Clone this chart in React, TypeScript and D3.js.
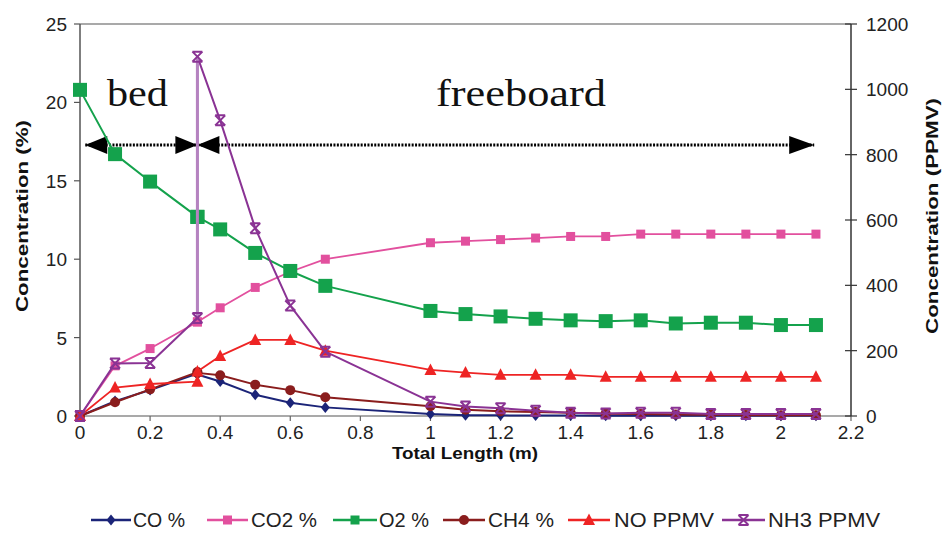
import * as d3 from "d3";

// total length along the reactor (m); 0.335 appears twice (bed end / freeboard start)
const lengthM = [0, 0.1, 0.2, 0.335, 0.335, 0.4, 0.5, 0.6, 0.7, 1.0, 1.1, 1.2, 1.3, 1.4, 1.5, 1.6, 1.7, 1.8, 1.9, 2.0, 2.1];

// left axis, %
const coPct = [0, 0.95, 1.66, 2.7, 2.65, 2.2, 1.35, 0.85, 0.55, 0.13, 0.05, 0.04, 0.03, 0.03, 0.02, 0.02, 0.02, 0.02, 0.02, 0.02, 0.02];
const co2Pct = [0, 3.2, 4.3, 6.0, 6.0, 6.9, 8.2, 9.2, 10.0, 11.05, 11.15, 11.25, 11.35, 11.45, 11.45, 11.6, 11.6, 11.6, 11.6, 11.6, 11.6];
const o2Pct = [20.8, 16.7, 14.95, 12.7, 12.7, 11.9, 10.4, 9.25, 8.3, 6.7, 6.5, 6.35, 6.2, 6.1, 6.05, 6.1, 5.9, 5.95, 5.95, 5.8, 5.8];
const ch4Pct = [0, 0.88, 1.7, 2.8, 2.75, 2.6, 2.0, 1.65, 1.2, 0.62, 0.4, 0.3, 0.25, 0.2, 0.15, 0.12, 0.1, 0.08, 0.06, 0.05, 0.05];

// right axis, PPMV
const noPpmv = [0, 87, 98, 105, 136, 184, 233, 233, 200, 141, 133, 126, 126, 126, 120, 120, 120, 120, 120, 120, 120];
const nh3Ppmv = [0, 161, 162, 300, 1100, 905, 575, 338, 197, 44, 29, 24, 16, 10, 8, 10, 10, 6, 6, 6, 6];

const xTicks = [0, 0.2, 0.4, 0.6, 0.8, 1, 1.2, 1.4, 1.6, 1.8, 2, 2.2];
const leftTicks = [0, 5, 10, 15, 20, 25];
const rightTicks = [0, 200, 400, 600, 800, 1000, 1200];

type Marker = "diamond" | "square" | "bigsquare" | "circle" | "triangle" | "star";

const series: { name: string; values: number[]; axis: "L" | "R"; color: string; marker: Marker; width: number }[] = [
  { name: "CO %", values: coPct, axis: "L", color: "#1b2478", marker: "diamond", width: 2 },
  { name: "CO2 %", values: co2Pct, axis: "L", color: "#e2509e", marker: "square", width: 1.8 },
  { name: "O2 %", values: o2Pct, axis: "L", color: "#14a24c", marker: "bigsquare", width: 2 },
  { name: "CH4 %", values: ch4Pct, axis: "L", color: "#8a1d1d", marker: "circle", width: 2 },
  { name: "NO PPMV", values: noPpmv, axis: "R", color: "#ee2424", marker: "triangle", width: 1.8 },
  { name: "NH3 PPMV", values: nh3Ppmv, axis: "R", color: "#8a3394", marker: "star", width: 2 },
];

// legend layout: [lineStart, lineEnd, textStart, textWidth]
const legendPos = [
  [91, 131, 133, 52],
  [207, 248, 251, 66],
  [333, 377, 379, 50],
  [443, 485, 488, 66],
  [568, 610, 614, 100],
  [722, 765, 768, 112],
];

const W = 947;
const H = 534;
const x = d3.scaleLinear().domain([0, 2.2]).range([80, 851]);
const yL = d3.scaleLinear().domain([0, 25]).range([416, 24]);
const yR = d3.scaleLinear().domain([0, 1200]).range([416, 24]);

const sans = "'Liberation Sans', Arial, sans-serif";
const narrow = "'Liberation Sans Narrow', 'Arial Narrow', 'Liberation Sans', Arial, sans-serif";

function MarkerShape({ type, cx, cy, color }: { type: Marker; cx: number; cy: number; color: string }) {
  switch (type) {
    case "diamond":
      return <path d={`M${cx},${cy - 5.5}L${cx + 4.5},${cy}L${cx},${cy + 5.5}L${cx - 4.5},${cy}Z`} fill={color} />;
    case "square":
      return <rect x={cx - 4.5} y={cy - 4.5} width={9} height={9} fill={color} />;
    case "bigsquare":
      return <rect x={cx - 7} y={cy - 7} width={14} height={14} fill={color} />;
    case "circle":
      return <circle cx={cx} cy={cy} r={5} fill={color} />;
    case "triangle":
      return <path d={`M${cx},${cy - 6.5}L${cx + 6},${cy + 5}L${cx - 6},${cy + 5}Z`} fill={color} />;
    case "star":
      return (
        <path
          d={`M${cx - 5},${cy - 5}L${cx + 5},${cy + 5}M${cx + 5},${cy - 5}L${cx - 5},${cy + 5}M${cx - 5},${cy - 5}H${cx + 5}M${cx - 5},${cy + 5}H${cx + 5}`}
          stroke={color}
          strokeWidth={2}
          fill="none"
        />
      );
  }
}

function Arrowhead({ tip, base, y }: { tip: number; base: number; y: number }) {
  return <path d={`M${tip},${y}L${base},${y - 9}L${base},${y + 9}Z`} fill="#000" />;
}

export default function App() {
  const arrowY = 145;
  const bedStart = x(0.015);
  const split = x(0.335);
  const fbEnd = x(2.095);

  return (
    <svg width={W} height={H} style={{ position: "absolute", left: 0, top: 0, background: "#fff" }} fontFamily={sans}>
      {/* frame */}
      <line x1={80} x2={851} y1={24} y2={24} stroke="#8c8c8c" strokeWidth={1.5} />
      <line x1={80} x2={851} y1={416} y2={416} stroke="#8c8c8c" strokeWidth={1.5} />
      <line x1={80} x2={80} y1={24} y2={416} stroke="#555" strokeWidth={1.5} />
      <line x1={851} x2={851} y1={24} y2={416} stroke="#333" strokeWidth={1.5} />

      {/* x axis */}
      {xTicks.map((t) => (
        <g key={t}>
          <line x1={x(t)} x2={x(t)} y1={416} y2={421} stroke="#666" strokeWidth={1.2} />
          <text x={x(t)} y={439} textAnchor="middle" fontSize={19} fontFamily={narrow} fill="#222">
            {t}
          </text>
        </g>
      ))}
      <text x={465} y={459} textAnchor="middle" fontSize={17} fontWeight="bold" fontFamily={narrow} fill="#111" textLength={146} lengthAdjust="spacingAndGlyphs">
        Total Length (m)
      </text>

      {/* left axis */}
      {leftTicks.map((t) => (
        <g key={t}>
          <line x1={74} x2={80} y1={yL(t)} y2={yL(t)} stroke="#555" strokeWidth={1.2} />
          <text x={67} y={yL(t) + 7} textAnchor="end" fontSize={19} fontFamily={narrow} fill="#222">
            {t}
          </text>
        </g>
      ))}
      <text
        transform="translate(28,216) rotate(-90)"
        textAnchor="middle"
        fontSize={17}
        fontWeight="bold"
        fill="#111"
        textLength={192}
        lengthAdjust="spacingAndGlyphs"
      >
        Concentration (%)
      </text>

      {/* right axis */}
      {rightTicks.map((t) => (
        <g key={t}>
          <line x1={845} x2={857} y1={yR(t)} y2={yR(t)} stroke="#333" strokeWidth={1.2} />
          <text x={866} y={yR(t) + 7} textAnchor="start" fontSize={19} fontFamily={narrow} fill="#222">
            {t}
          </text>
        </g>
      ))}
      <text
        transform="translate(938,216) rotate(-90)"
        textAnchor="middle"
        fontSize={17}
        fontWeight="bold"
        fill="#111"
        textLength={236}
        lengthAdjust="spacingAndGlyphs"
      >
        Concentration (PPMV)
      </text>

      {/* bed / freeboard annotation */}
      <text x={107} y={106} fontFamily="'Liberation Serif', 'Times New Roman', serif" fontSize={38} fill="#111" textLength={61} lengthAdjust="spacingAndGlyphs">
        bed
      </text>
      <text x={436} y={106} fontFamily="'Liberation Serif', 'Times New Roman', serif" fontSize={38} fill="#111" textLength={170} lengthAdjust="spacingAndGlyphs">
        freeboard
      </text>
      <line x1={bedStart} x2={fbEnd} y1={arrowY} y2={arrowY} stroke="#000" strokeWidth={3} strokeDasharray="2 1.4" />
      <Arrowhead tip={bedStart} base={bedStart + 22} y={arrowY} />
      <Arrowhead tip={split} base={split - 22} y={arrowY} />
      <Arrowhead tip={split} base={split + 22} y={arrowY} />
      <Arrowhead tip={fbEnd} base={fbEnd - 25} y={arrowY} />

      {/* series */}
      {series.map((s) => {
        const yScale = s.axis === "L" ? yL : yR;
        const pts: [number, number][] = lengthM.map((l, i) => [x(l), yScale(s.values[i])]);
        const line = d3.line()(pts) ?? "";
        // the jump at the bed / freeboard boundary renders as a paler stroke
        const jump = s.marker === "star" ? d3.line()(pts.slice(3, 5)) ?? "" : "";
        return (
          <g key={s.name}>
            <path d={line} fill="none" stroke={s.color} strokeWidth={s.width} strokeLinejoin="round" />
            {jump && <path d={jump} fill="none" stroke="#b583c0" strokeWidth={3} />}
            {pts.map(([px, py], i) => (
              <MarkerShape key={i} type={s.marker} cx={px} cy={py} color={s.color} />
            ))}
          </g>
        );
      })}

      {/* legend */}
      {series.map((s, i) => {
        const [l0, l1, t0, tw] = legendPos[i];
        const cy = 520;
        return (
          <g key={s.name}>
            <line x1={l0} x2={l1} y1={cy} y2={cy} stroke={s.color} strokeWidth={2.5} />
            <MarkerShape type={s.marker === "bigsquare" ? "square" : s.marker} cx={(l0 + l1) / 2} cy={cy} color={s.color} />
            <text x={t0} y={cy + 7} fontSize={20} fontFamily={narrow} fill="#222" textLength={tw} lengthAdjust="spacingAndGlyphs">
              {s.name}
            </text>
          </g>
        );
      })}
    </svg>
  );
}
